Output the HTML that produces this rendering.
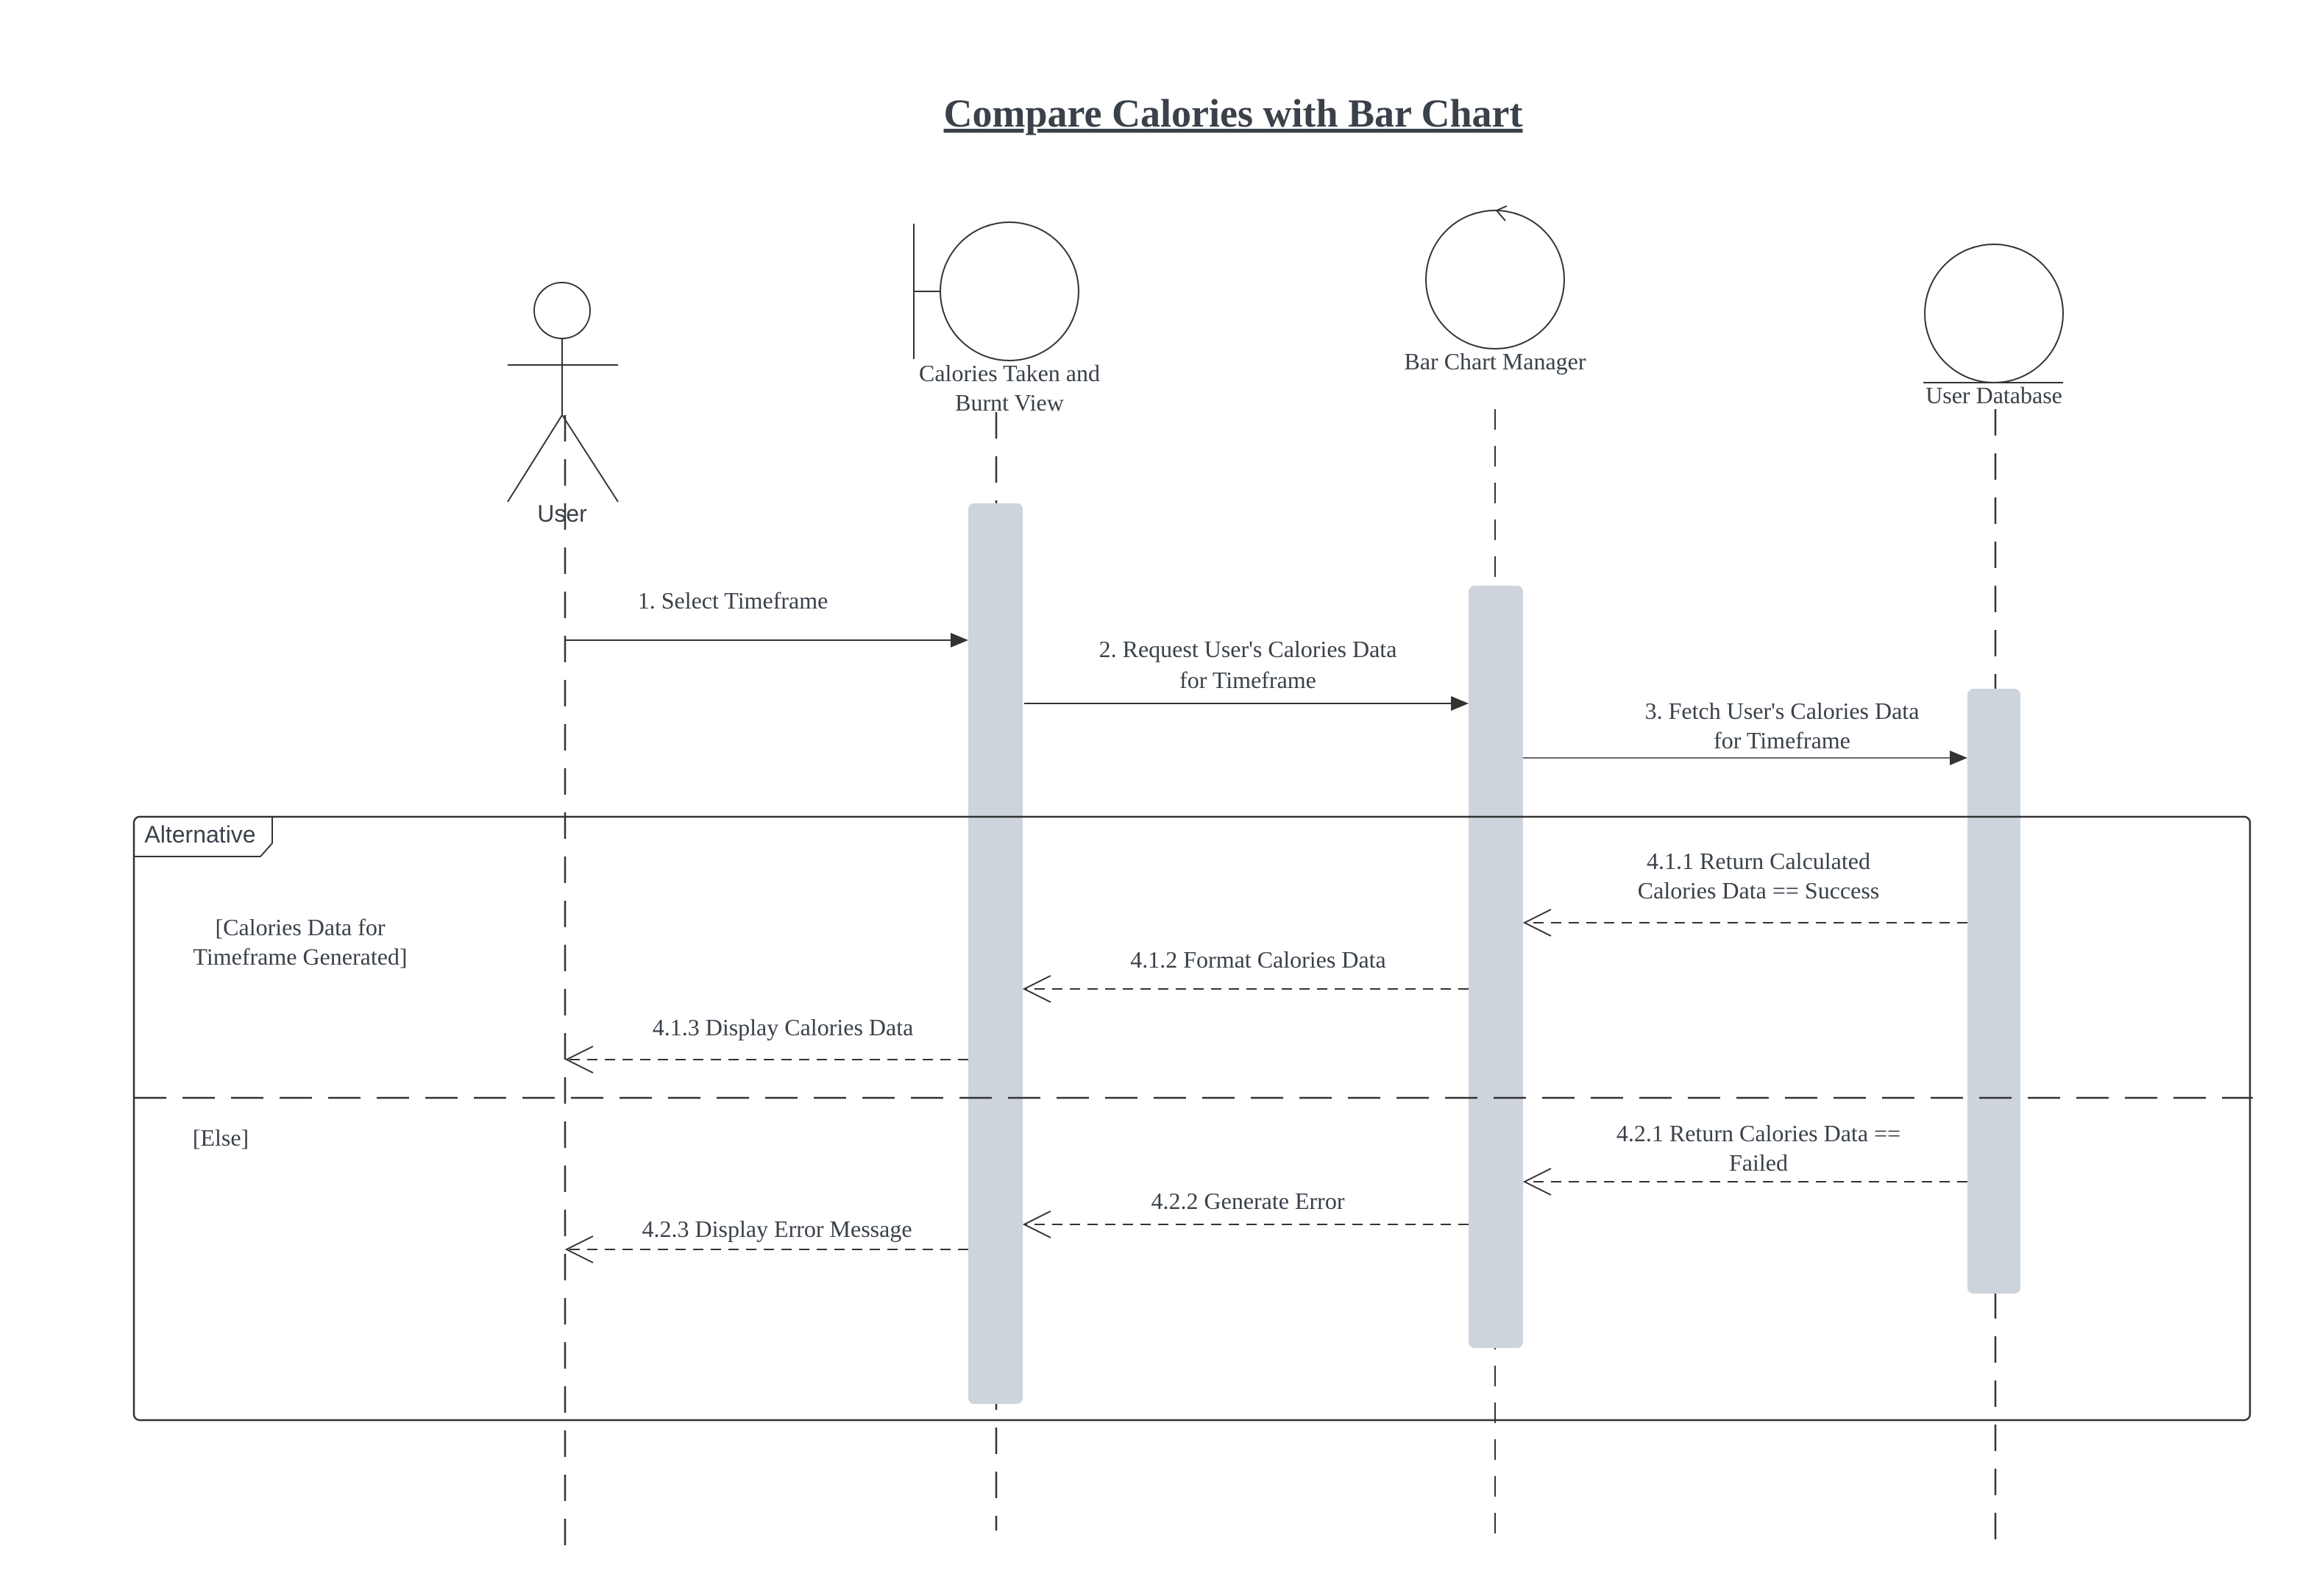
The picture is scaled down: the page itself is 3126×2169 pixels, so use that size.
<!DOCTYPE html>
<html><head><meta charset="utf-8"><style>
html,body{margin:0;padding:0;background:#fff;}
svg{display:block;}
text{font-family:"Liberation Serif",serif;fill:#3a414a;font-size:32px;text-anchor:middle;}
</style></head><body>
<svg width="3126" height="2169" viewBox="0 0 3126 2169" xmlns="http://www.w3.org/2000/svg">
<defs>
<marker id="fa" markerWidth="24" markerHeight="20" refX="22" refY="10" orient="auto" markerUnits="userSpaceOnUse"><path d="M0,0 L24,10 L0,20 Z" fill="#333"/></marker>
<marker id="oa" markerWidth="40" markerHeight="40" refX="38" refY="20" orient="auto" markerUnits="userSpaceOnUse"><path d="M2,2 L38,20 L2,38" fill="none" stroke="#333" stroke-width="2"/></marker>
</defs>
<text x="1676" y="172" style="font-size:54px;font-weight:bold;text-decoration:underline;">Compare Calories with Bar Chart</text>

<g stroke="#333" stroke-width="2" fill="none">
<line x1="768" y1="564" x2="768" y2="2100" stroke-dasharray="36,24" stroke-width="2.5"/>
<line x1="1354" y1="560" x2="1354" y2="2080" stroke-dasharray="36,24" stroke-width="2.5"/>
<line x1="2032" y1="556" x2="2032" y2="2100" stroke-dasharray="28,22"/>
<line x1="2712" y1="556" x2="2712" y2="2100" stroke-dasharray="36,24" stroke-width="2.5"/>
<circle cx="764" cy="422" r="38"/>
<line x1="764" y1="460" x2="764" y2="564"/>
<line x1="690" y1="496" x2="840" y2="496"/>
<line x1="764" y1="564" x2="690" y2="682"/>
<line x1="764" y1="564" x2="840" y2="682"/>
<circle cx="1372" cy="396" r="94"/>
<line x1="1242" y1="304" x2="1242" y2="488"/>
<line x1="1242" y1="396" x2="1278" y2="396"/>
<circle cx="2032" cy="380" r="94"/>
<path d="M2048,280 L2034,286 L2046,300"/>
<circle cx="2710" cy="426" r="94"/>
<line x1="2614" y1="520" x2="2804" y2="520"/>
</g>
<text x="764" y="709" style="font-family:'Liberation Sans',sans-serif;">User</text>
<text x="1372" y="518">Calories Taken and</text>
<text x="1372" y="558">Burnt View</text>
<text x="2032" y="502">Bar Chart Manager</text>
<text x="2710" y="548">User Database</text>

<rect x="1316" y="684" width="74" height="1224" rx="8" fill="#cdd4dc"/>
<rect x="1996" y="796" width="74" height="1036" rx="8" fill="#cdd4dc"/>
<rect x="2674" y="936" width="72" height="822" rx="8" fill="#cdd4dc"/>

<g stroke="#333" fill="none">
<rect x="182" y="1110" width="2876" height="820" rx="8" stroke-width="2.5"/>
<path d="M182,1164 L354,1164 L370,1146 L370,1110" stroke-width="2"/>
<line x1="182" y1="1492" x2="3062" y2="1492" stroke-dasharray="44,22" stroke-width="2.5"/>
</g>
<text x="272" y="1145" style="font-family:'Liberation Sans',sans-serif;">Alternative</text>
<text x="408" y="1271">[Calories Data for</text>
<text x="408" y="1311">Timeframe Generated]</text>
<text x="300" y="1557">[Else]</text>

<g stroke="#333" stroke-width="2" fill="none">
<line x1="768" y1="870" x2="1314" y2="870" marker-end="url(#fa)"/>
<line x1="1392" y1="956" x2="1994" y2="956" marker-end="url(#fa)"/>
<line x1="2070" y1="1030" x2="2672" y2="1030" stroke-width="1.5" marker-end="url(#fa)"/>
<g stroke-dasharray="14,10">
<line x1="2674" y1="1254" x2="2072" y2="1254" marker-end="url(#oa)"/>
<line x1="1996" y1="1344" x2="1392" y2="1344" marker-end="url(#oa)"/>
<line x1="1316" y1="1440" x2="770" y2="1440" marker-end="url(#oa)"/>
<line x1="2674" y1="1606" x2="2072" y2="1606" marker-end="url(#oa)"/>
<line x1="1996" y1="1664" x2="1392" y2="1664" marker-end="url(#oa)"/>
<line x1="1316" y1="1698" x2="770" y2="1698" marker-end="url(#oa)"/>
</g>
</g>
<text x="996" y="827">1. Select Timeframe</text>
<text x="1696" y="893">2. Request User's Calories Data</text>
<text x="1696" y="935">for Timeframe</text>
<text x="2422" y="977">3. Fetch User's Calories Data</text>
<text x="2422" y="1017">for Timeframe</text>
<text x="2390" y="1181">4.1.1 Return Calculated</text>
<text x="2390" y="1221">Calories Data == Success</text>
<text x="1710" y="1315">4.1.2 Format Calories Data</text>
<text x="1064" y="1407">4.1.3 Display Calories Data</text>
<text x="2390" y="1551">4.2.1 Return Calories Data ==</text>
<text x="2390" y="1591">Failed</text>
<text x="1696" y="1643">4.2.2 Generate Error</text>
<text x="1056" y="1681">4.2.3 Display Error Message</text>
</svg>
</body></html>
